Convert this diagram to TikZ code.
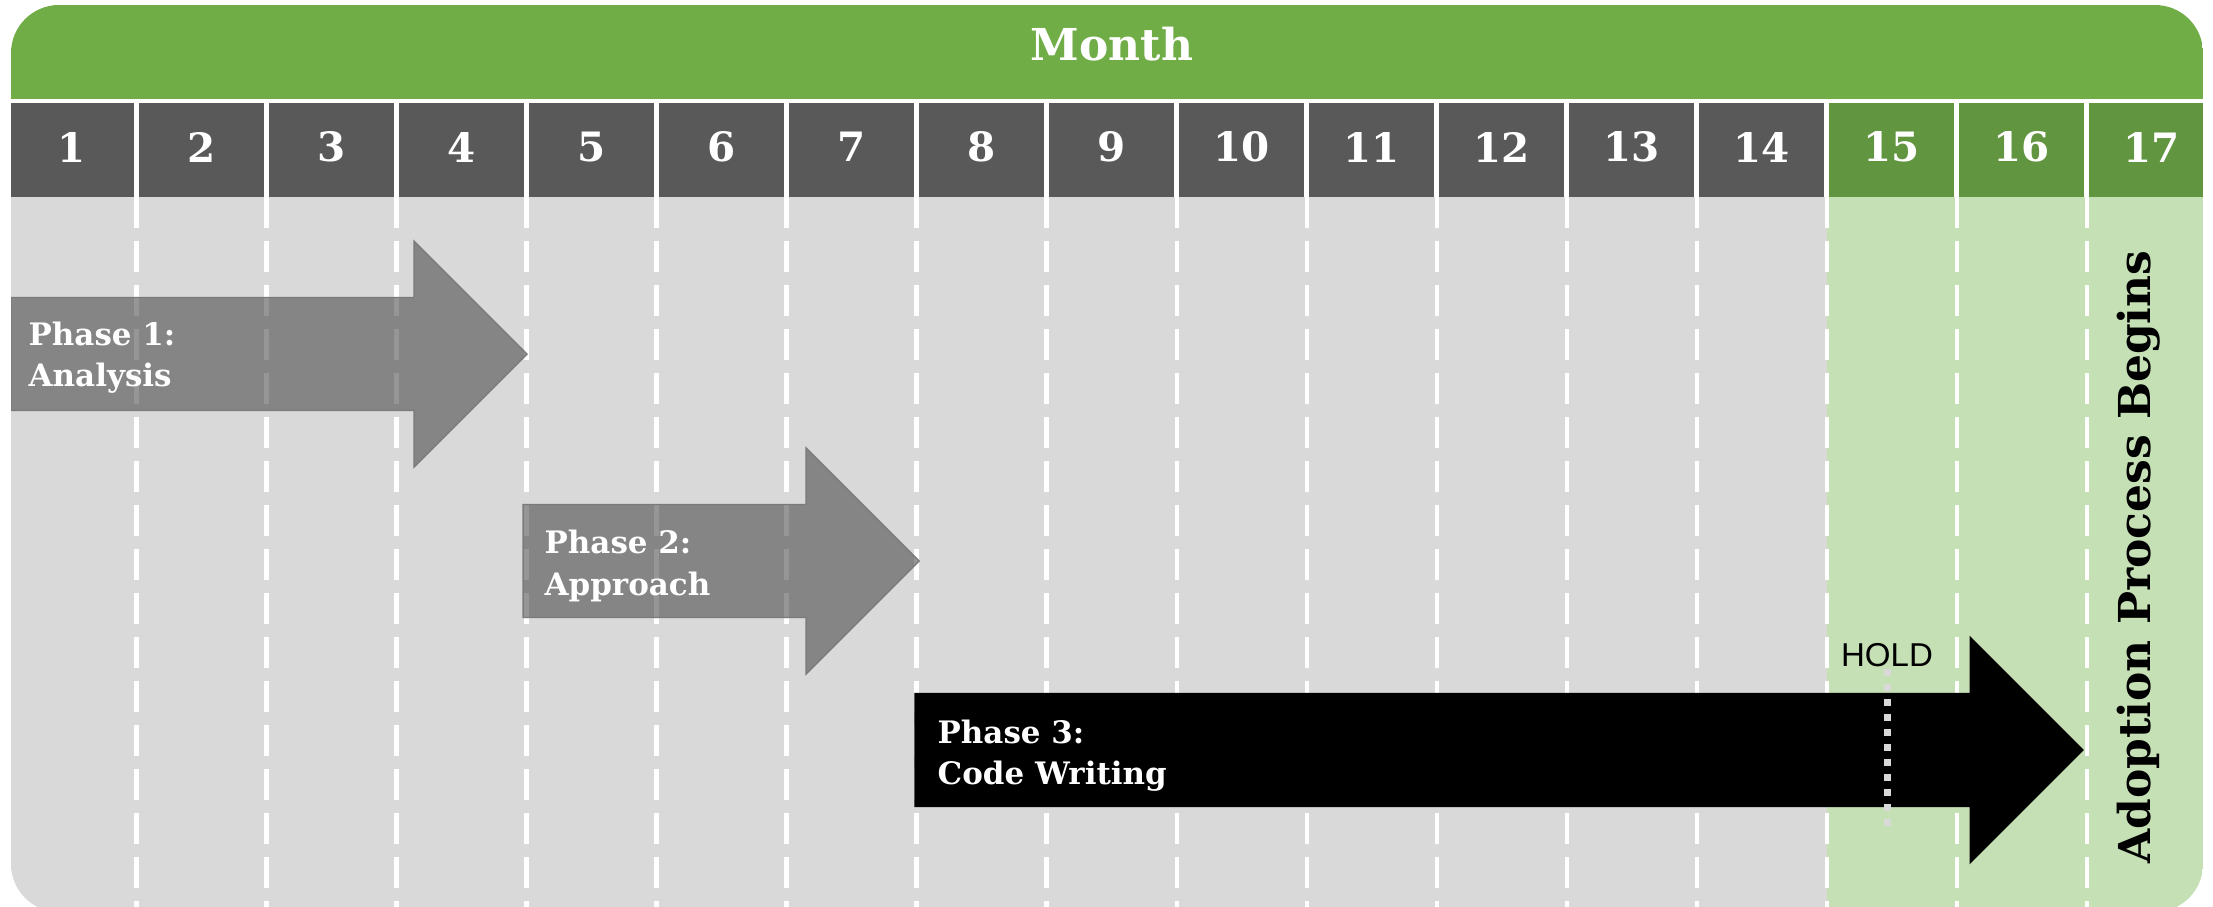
\documentclass[tikz,border=0pt]{standalone}
\usepackage{fontspec}
\setmainfont{DejaVu Serif}
\newfontfamily\holdfont{Liberation Sans}

\definecolor{hdrgreen}{HTML}{70AD47}
\definecolor{cellgray}{HTML}{595959}
\definecolor{cellgreen}{HTML}{61953F}
\definecolor{bodygray}{HTML}{D9D9D9}
\definecolor{bodygreen}{HTML}{C5E0B4}
\definecolor{phaseedge}{HTML}{7A7A7A}

% block arrow: style, shaft start x, head start x, centre y
\newcommand{\timelinearrow}[4]{%
  \path[#1] (#2,#4-56.5) -- (#3,#4-56.5) -- (#3,#4-113) -- (#3+113,#4)
    -- (#3,#4+113) -- (#3,#4+56.5) -- (#2,#4+56.5) -- cycle;}

\begin{document}
\begin{tikzpicture}[x=0.01cm,y=-0.01cm,
  cellgap/.style={white,line width=1.28pt},
  colline/.style={white,line width=1.15pt,dash pattern=on 8.82pt off 3.70pt},
  phasebox/.style={fill=black!75,fill opacity=0.55,draw=phaseedge,line width=0.4pt},
  codebox/.style={fill=black,draw=black,line width=0.3pt},
  holdline/.style={bodygray,line width=2pt,dash pattern=on 2pt off 2.27pt},
  phaselabel/.style={text=white,font=\fontsize{8.8}{11.7}\selectfont\bfseries,
    align=left,anchor=west,inner sep=0pt},
  monthnum/.style={text=white,font=\fontsize{11.5}{13}\selectfont\bfseries,inner sep=0pt},
]
\useasboundingbox (0,0) rectangle (2213,906);

\begin{scope}
  \clip[rounded corners=0.48cm] (11,5) rectangle (2203,912);
  % header band
  \fill[hdrgreen] (11,5) rectangle (2203,99);
  % month number row
  \fill[cellgray]  (11,103) rectangle (1826.5,197);
  \fill[cellgreen] (1826.5,103) rectangle (2203,197);
  % body
  \fill[bodygray]  (11,197) rectangle (1826.5,912);
  \fill[bodygreen] (1826.5,197) rectangle (2203,912);
  % column separators
  \foreach \k in {1,...,16}{
    \draw[cellgap] (6.5+130*\k,103) -- (6.5+130*\k,197);
    \draw[colline] (6.5+130*\k,197) -- (6.5+130*\k,912);
  }
  % phase arrows
  \timelinearrow{phasebox}{11}{414}{354}
  \timelinearrow{phasebox}{523}{806}{561}
  \timelinearrow{codebox}{915}{1970}{750}
\end{scope}

% header text
\node[text=white,font=\fontsize{12.5}{14}\selectfont\bfseries,inner sep=0pt,anchor=base]
  (month) at (1112,60) {Month};
\foreach \j in {1,...,17}
  \node[monthnum] (m\j) at (130*\j-58.5,147) {\j};

% phase labels
\node[phaselabel] (p1) at (28,358) {Phase 1:\\Analysis};
\node[phaselabel] (p2) at (544,566) {Phase 2:\\Approach};
\node[phaselabel] (p3) at (937,756) {Phase 3:\\Code Writing};

% hold marker
\node[anchor=base,inner sep=0pt,font=\holdfont\fontsize{9.4}{11}\selectfont]
  (hold) at (1887,666) {HOLD};
\coordinate (holdend) at (1887,834);
\draw[holdline] ([yshift=-0.6pt]hold.south) -- (hold.south |- holdend);

% adoption label
\node[rotate=90,anchor=base,inner sep=0pt,font=\fontsize{12.5}{14}\selectfont\bfseries]
  (adopt) at (2150,557) {Adoption Process Begins};
\end{tikzpicture}
\end{document}
